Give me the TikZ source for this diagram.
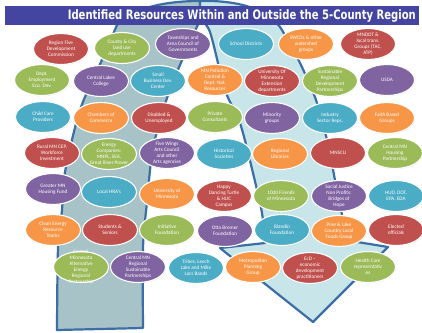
\documentclass[tikz,border=0pt]{standalone}
\usepackage{graphicx}
\usepackage{fontspec}
\setmainfont{Carlito}
\newfontfamily\titlefont{DejaVu Sans}
\usetikzlibrary{shapes.geometric,shadows}
\definecolor{ored}{HTML}{C0504D}
\definecolor{ogreen}{HTML}{9BBB59}
\definecolor{opurple}{HTML}{8064A2}
\definecolor{oteal}{HTML}{4BACC6}
\definecolor{oorange}{HTML}{F79646}
\definecolor{edgeblue}{HTML}{3A6EA5}
\definecolor{leftfill}{HTML}{A7C3C8}
\definecolor{rightfill}{HTML}{C8E6EA}
\definecolor{titleblue}{HTML}{4345A0}
\tikzset{
  oval/.style={ellipse, draw=white, line width=1.1pt, minimum width=55pt, minimum height=31pt, inner sep=0pt,
    drop shadow={opacity=0.2, shadow xshift=0.5pt, shadow yshift=-0.7pt}},
  ovtext/.style={text=white, font=\fontsize{5.2}{6.1}\selectfont, align=center, inner sep=0pt},
  shapeedge/.style={draw=edgeblue, line width=2.2pt, line join=round},
  titlebar/.style={fill=titleblue, anchor=north west, inner sep=0pt, minimum width=414pt, minimum height=19pt},
}
\newcommand{\resnode}[5]{\node[oval, fill=#4] (#1) at (#2,#3) {}; \node[ovtext] (#1t) at (#1) {#5};}
\begin{document}
\begin{tikzpicture}[x=1pt,y=-1pt]
\useasboundingbox[fill=white] (0,0) rectangle (422,332);
% left band (up part of the U-turn)
\path[shapeedge, fill=leftfill] (57,330) -- (143,328)
  -- plot[smooth] coordinates {(143,328) (143,248) (147,202) (153,148) (167,98) (180,65) (200,20)}
  -- (200,1) .. controls (160,1) and (130,10) .. (117,25)
  -- plot[smooth] coordinates {(117,25) (101,62) (80,110) (65,172) (62,210) (58,248) (57,330)} -- cycle;
% right down arrow
\path[shapeedge, fill=rightfill] (200,1) .. controls (240,0) and (270,10) .. (282,30)
  -- plot[smooth] coordinates {(282,30) (300,63) (316,100) (327,140) (335,180) (342,215) (345,240)}
  -- (388,247) -- (313,322) -- (220,248) -- (265,243)
  -- plot[smooth] coordinates {(265,243) (262,213) (253,173) (240,123) (225,90) (210,32) (200,20)} -- cycle;
% title
\node[titlebar] (bar) at (5,6) {};
\node[anchor=base east, text=white, inner sep=0pt] (title) at (416,19.5)
  {\resizebox{348pt}{\height}{\titlefont\bfseries\fontsize{13}{13}\selectfont Identified Resources Within and Outside the 5-County Region}};
% row 1
\resnode{a1}{61}{49}{ored}{Region Five\\Development\\Commission}
\resnode{a2}{122}{48}{ogreen}{County \& City\\land use\\departments}
\resnode{a3}{183}{44}{opurple}{Townships and\\Area Council of\\Governments}
\resnode{a4}{246}{44}{oteal}{School Districts}
\resnode{a5}{306}{44}{oorange}{SWCDs \& other\\watershed\\groups}
\resnode{a6}{368}{44}{ored}{MNDOT \&\\local trans.\\Groups (TAC,\\ATP)}
% row 2
\resnode{b1}{42}{80}{ogreen}{Dept.\\Employment\\Eco. Dev.}
\resnode{b2}{101}{81}{opurple}{Central Lakes\\College}
\resnode{b3}{158}{81}{oteal}{Small\\Business Dev.\\Center}
\resnode{b4}{215}{80}{oorange}{MN Pollution\\Control \&\\Dept. Nat.\\Resources}
\resnode{b5}{272}{81}{ored}{University Of\\Minnesota\\Extension\\departments}
\resnode{b6}{330}{81}{ogreen}{Sustainable\\Regional\\Development\\Partnerships}
\resnode{b7}{387}{80}{opurple}{USDA}
% row 3
\resnode{c1}{43}{117}{oteal}{Child Care\\Providers}
\resnode{c2}{101}{118}{oorange}{Chambers of\\Commerce}
\resnode{c3}{159}{118}{ored}{Disabled \&\\Unemployed}
\resnode{c4}{215}{117}{ogreen}{Private\\Consultants}
\resnode{c5}{272}{118}{opurple}{Minority\\groups}
\resnode{c6}{330}{118}{oteal}{Industry\\Sector Reps.}
\resnode{c7}{387}{118}{oorange}{Faith Based\\Groups}
% row 4
\resnode{d1}{52}{153}{ored}{Rural MN CEP,\\Workforce\\Investment}
\resnode{d2}{109}{154}{ogreen}{Energy\\Companies:\\MNPL, SEA,\\Great River Power}
\resnode{d3}{167}{153}{opurple}{Five Wings\\Arts Council\\and other\\Arts agencies}
\resnode{d4}{224}{154}{oteal}{Historical\\Societies}
\resnode{d5}{280}{154}{oorange}{Regional\\Libraries}
\resnode{d6}{338}{153}{ored}{MNSCU}
\resnode{d7}{395}{153}{ogreen}{Central MN\\Housing\\Partnership}
% row 5
\resnode{e1}{53}{189}{opurple}{Greater MN\\Housing Fund}
\resnode{e2}{109}{192}{oteal}{Local HRA's}
\resnode{e3}{167}{194}{oorange}{University of\\Minnesota}
\resnode{e4}{224}{196}{ored}{Happy\\Dancing Turtle\\\& HUC\\Campus}
\resnode{e5}{281}{196}{ogreen}{1000 Friends\\of Minnesota}
\resnode{e6}{339}{196}{opurple}{Social Justice\\Non Profits:\\Bridges of\\Hope}
\resnode{e7}{396}{196}{oteal}{HUD, DOT,\\EPA, EDA}
% row 6
\resnode{f1}{53}{230}{oorange}{Clean Energy\\Resource\\Teams}
\resnode{f2}{110}{230}{ored}{Students \&\\Seniors}
\resnode{f3}{167}{230}{ogreen}{Initiative\\Foundation}
\resnode{f4}{225}{231}{opurple}{Otto Bremer\\Foundation}
\resnode{f5}{282}{230}{oteal}{Blandin\\Foundation}
\resnode{f6}{339}{231}{oorange}{Pine \& Lake\\Country Local\\Foods Group}
\resnode{f7}{396}{230}{ored}{Elected\\officials}
% row 7
\resnode{g1}{81}{267}{ogreen}{Central\\Minnesota\\Alternative\\Energy\\Regional\\Partnership}
\resnode{g2}{138}{267}{opurple}{Central MN\\Regional\\Sustainable\\Partnerships}
\resnode{g3}{196}{268}{oteal}{Tribes, Leech\\Lake and Mille\\Lacs Bands}
\resnode{g4}{253}{267}{oorange}{Metropolitan\\Planning\\Group}
\resnode{g5}{310}{268}{ored}{EcD --\\economic\\development\\practitioners}
\resnode{g6}{368}{267}{ogreen}{Health Care\\representativ\\es}
\end{tikzpicture}
\end{document}
